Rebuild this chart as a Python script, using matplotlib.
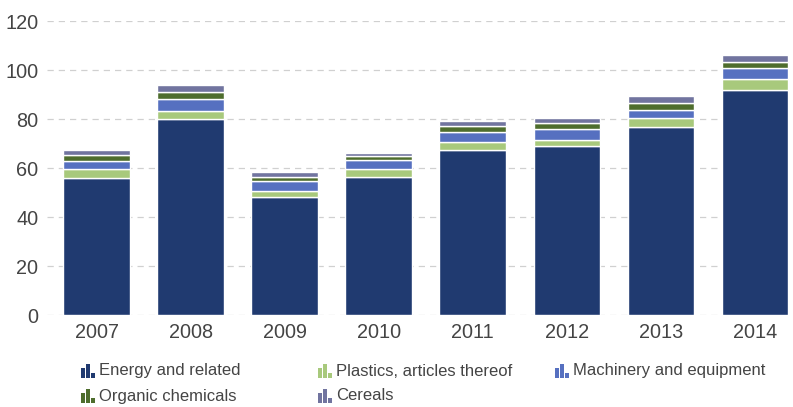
import matplotlib.pyplot as plt
from matplotlib.patches import Rectangle
import numpy as np

plt.rcParams["font.family"] = ["Liberation Sans", "DejaVu Sans"]

years = ["2007", "2008", "2009", "2010", "2011", "2012", "2013", "2014"]
energy = [56.0, 80.0, 48.3, 56.5, 67.3, 69.0, 76.8, 92.0]
plastics = [3.5, 3.5, 2.5, 3.3, 3.5, 2.5, 3.5, 4.5]
machinery = [3.5, 4.7, 4.0, 3.5, 4.0, 4.5, 3.5, 4.2]
organic = [2.5, 2.8, 1.5, 1.5, 2.3, 2.3, 2.8, 2.8]
cereals = [1.8, 2.8, 2.0, 1.5, 2.0, 2.0, 2.7, 2.8]

series = [energy, plastics, machinery, organic, cereals]
names = ["Energy and related", "Plastics, articles thereof", "Machinery and equipment",
         "Organic chemicals", "Cereals"]
colors = ["#203a70", "#a8c97c", "#5670c0", "#4e6d2d", "#71749f"]

fig = plt.figure(figsize=(7.93, 4.07), dpi=100)
ax = fig.add_axes([0.059, 0.226, 0.937, 0.722])

x = np.arange(len(years))
bottom = np.zeros(len(years))
for vals, c in zip(series, colors):
    ax.bar(x, vals, bottom=bottom, width=0.71, color=c, edgecolor="white", linewidth=1, zorder=3)
    bottom += np.array(vals)

ax.set_ylim(0, 120)
ax.set_xlim(-0.53, 7.37)
ax.set_yticks(range(0, 121, 20))
ax.set_xticks(x)
ax.set_xticklabels(years)
ax.yaxis.grid(True, linestyle=(0, (5, 4)), color="#d0d0d0", linewidth=0.9, zorder=0)
for s in ax.spines.values():
    s.set_visible(False)
ax.tick_params(length=0, labelsize=14.3, colors="#444444")
ax.tick_params(axis="y", pad=6)
ax.tick_params(axis="x", pad=6)

# legend, drawn by hand with the little bar icons
pos = [(81, 371), (318, 371), (555, 371), (81, 396), (318, 396)]
W, H = 793, 407
for (px, py), name, c in zip(pos, names, colors):
    base = py + 7
    for i, h in enumerate([10, 14, 5]):
        fig.add_artist(Rectangle(((px + i * 5) / W, 1 - base / H), 3.6 / W, h / H,
                                 transform=fig.transFigure, facecolor=c, linewidth=0))
    fig.text((px + 18) / W, 1 - py / H, name, fontsize=12, color="#444444", va="center")

fig.savefig("out.png", dpi=100)
